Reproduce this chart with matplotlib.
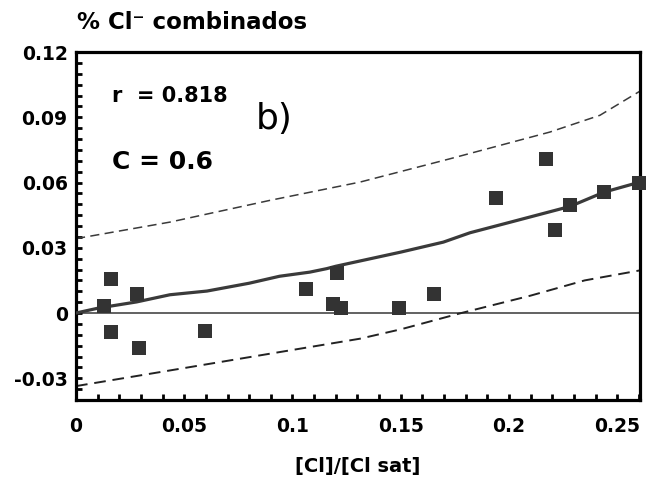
import numpy as np
import matplotlib
matplotlib.use('Agg')
import matplotlib.pyplot as plt
from matplotlib.ticker import MultipleLocator

plt.rcParams['font.family'] = ['DejaVu Sans']

# datos medidos
x_pts = [0.0129, 0.0162, 0.0162, 0.0282, 0.0291, 0.0596, 0.1062, 0.1204, 0.1186,
         0.1224, 0.1493, 0.1654, 0.1940, 0.2170, 0.2212, 0.2282, 0.2440, 0.2602]
y_pts = [0.0032, 0.0156, -0.0087, 0.0087, -0.0161, -0.0083, 0.0112, 0.0184, 0.0043,
         0.0023, 0.0023, 0.0089, 0.0530, 0.0707, 0.0383, 0.0495, 0.0556, 0.0598]

# curva de ajuste
x_fit = [0.0, 0.0105, 0.028, 0.0434, 0.0605, 0.08, 0.094, 0.108, 0.1158, 0.12,
         0.15, 0.1697, 0.182, 0.2, 0.2282, 0.244, 0.2605]
y_fit = [0.0, 0.0023, 0.0051, 0.0084, 0.0101, 0.0137, 0.0169, 0.0188, 0.0204, 0.0215,
         0.028, 0.0326, 0.0369, 0.0416, 0.049, 0.0556, 0.0602]

# limites de confianza
x_sup = [0.0, 0.0434, 0.0896, 0.1312, 0.1727, 0.2189, 0.242, 0.2605]
y_sup = [0.0342, 0.0418, 0.0518, 0.0602, 0.0709, 0.0832, 0.0909, 0.1020]
x_inf = [0.0, 0.0434, 0.0896, 0.1312, 0.15, 0.178, 0.21, 0.235, 0.2605]
y_inf = [-0.0336, -0.0264, -0.0187, -0.0118, -0.0075, 0.0, 0.008, 0.015, 0.0196]

fig = plt.figure(figsize=(6.57, 4.83), dpi=100)
ax = fig.add_axes([0.1157, 0.1718, 0.8583, 0.7205])

gris = '#3a3a3a'
ax.axhline(0, color='#555555', lw=1.3, zorder=1)
ax.plot(x_sup, y_sup, color=gris, lw=1.1, dashes=(6, 3.5), zorder=2)
ax.plot(x_inf, y_inf, color='#222222', lw=1.4, dashes=(6, 3.5), zorder=2)
ax.plot(x_fit, y_fit, color=gris, lw=2.3, zorder=3)
ax.plot(x_pts, y_pts, 's', color='#333333', ms=9.5, mew=0, zorder=4, clip_on=False)

ax.set_xlim(0, 0.2605)
ax.set_ylim(-0.04, 0.12)
ax.xaxis.set_major_locator(MultipleLocator(0.05))
ax.xaxis.set_minor_locator(MultipleLocator(0.01))
ax.yaxis.set_major_locator(MultipleLocator(0.03))
ax.yaxis.set_minor_locator(MultipleLocator(0.005))

def fmt(v, pos):
    s = ('%.2f' % v).rstrip('0').rstrip('.')
    return '0' if s in ('0', '-0') else s

ax.xaxis.set_major_formatter(plt.FuncFormatter(fmt))
ax.yaxis.set_major_formatter(plt.FuncFormatter(fmt))

for s in ax.spines.values():
    s.set_linewidth(2.3)
ax.tick_params(which='both', direction='in', width=2, length=4, labelsize=13.5,
               top=False, right=False)
ax.tick_params(axis='x', pad=12)
ax.tick_params(axis='y', pad=6)
for lab in ax.get_xticklabels() + ax.get_yticklabels():
    lab.set_fontweight('bold')

fig.text(0.117, 0.954, '% Cl\u207b combinados', fontsize=16.5, fontweight='bold',
         ha='left', va='center')
fig.text(0.545, 0.035, '[Cl]/[Cl sat]', fontsize=14, fontweight='bold',
         ha='center', va='center')

ax.text(0.0165, 0.1, 'r  = 0.818', fontsize=15, fontweight='bold', va='center')
ax.text(0.0165, 0.0695, 'C = 0.6', fontsize=18, fontweight='bold', va='center')
ax.text(0.083, 0.089, 'b)', fontsize=26, va='center')

fig.savefig('out.png', dpi=100)
